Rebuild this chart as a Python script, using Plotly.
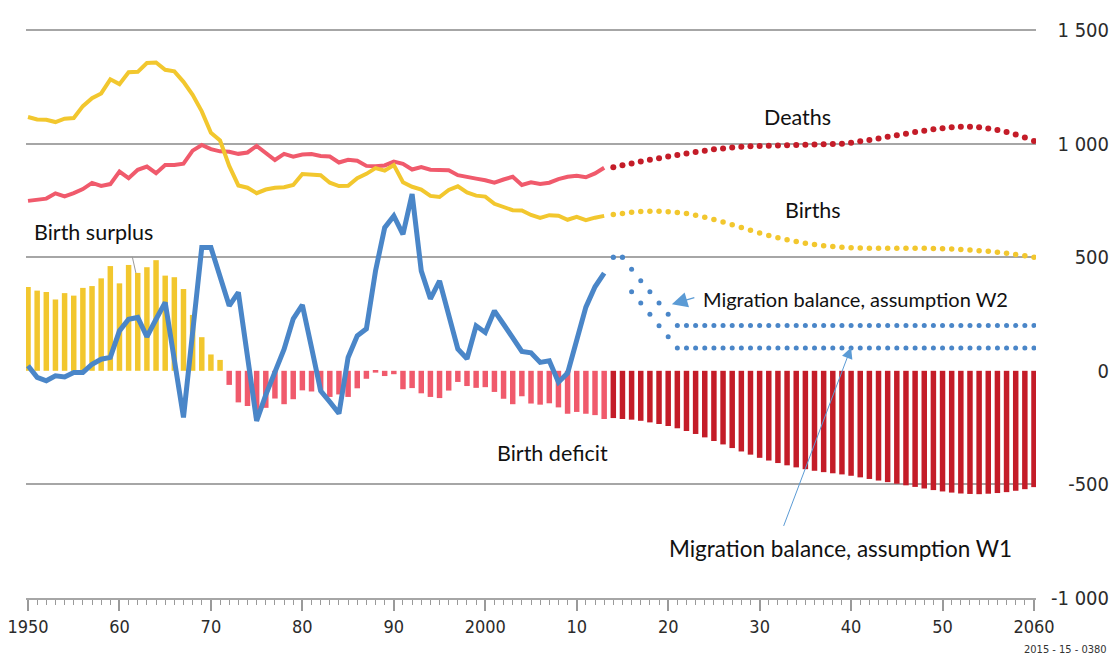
import plotly.graph_objects as go

# Jahre
years_hist = list(range(1950, 2014))
years_proj = list(range(2014, 2061))

# Beobachtete Werte (in 1000)
births_hist = [1117, 1106, 1105, 1095, 1110, 1113, 1165, 1200, 1221, 1283,
               1262, 1314, 1316, 1355, 1357, 1325, 1318, 1272, 1215, 1142,
               1048, 1014, 902, 816, 806, 782, 798, 806, 808, 818,
               866, 863, 861, 828, 813, 814, 848, 867, 892, 881,
               906, 830, 810, 798, 770, 765, 796, 812, 785, 771,
               767, 735, 719, 707, 706, 686, 673, 685, 683, 665,
               678, 663, 674, 682]
deaths_hist = [748, 753, 758, 781, 768, 782, 800, 827, 814, 822,
               877, 848, 885, 899, 870, 906, 906, 912, 969, 994,
               976, 966, 964, 955, 961, 990, 961, 928, 955, 943,
               952, 954, 946, 943, 917, 929, 925, 902, 900, 904,
               921, 911, 886, 897, 885, 885, 883, 861, 852, 846,
               839, 828, 842, 854, 818, 830, 822, 828, 844, 854,
               859, 852, 869, 894]
balance_hist = [369, 353, 347, 314, 342, 331, 365, 373, 407, 461,
                385, 466, 431, 456, 487, 419, 412, 360, 246, 148,
                72, 48, -62, -139, -155, -208, -163, -122, -147, -125,
                -86, -91, -85, -115, -104, -115, -77, -35, -8, -23,
                -15, -81, -76, -99, -115, -120, -87, -49, -67, -75,
                -72, -93, -123, -147, -112, -144, -149, -143, -161, -189,
                -181, -189, -195, -212]
migration_hist = [22, -29, -44, -22, -27, -7, -7, 29, 51, 59,
                  176, 227, 235, 150, 227, 301, 48, -205, 170, 543,
                  543, 415, 286, 345, 62, -220, -106, 0, 95, 229,
                  290, 103, -88, -137, -188, 59, 154, 185, 440, 630,
                  682, 601, 778, 440, 317, 396, 242, 96, 53, 198,
                  169, 264, 205, 147, 85, 79, 37, 44, -50, -10,
                  130, 280, 370, 430]

# Vorausberechnung
births_proj = [688, 693, 698, 701, 702, 702, 700, 697, 692, 685,
               676, 666, 655, 643, 631, 619, 607, 596, 586, 577,
               569, 562, 556, 551, 547, 544, 542, 541, 540, 540,
               540, 540, 540, 540, 539, 538, 537, 536, 534, 532,
               529, 526, 522, 517, 512, 506, 500]
deaths_proj = [896, 905, 913, 921, 929, 936, 943, 950, 957, 963,
               969, 975, 979, 983, 986, 988, 990, 991, 992, 993,
               994, 995, 996, 997, 998, 1000, 1004, 1010, 1016, 1023,
               1030, 1037, 1044, 1051, 1057, 1063, 1068, 1072, 1074, 1074,
               1072, 1067, 1060, 1051, 1040, 1027, 1012]
balance_proj = [-208, -212, -215, -220, -227, -234, -243, -253, -265, -278,
                -293, -309, -324, -340, -355, -369, -383, -395, -406, -416,
                -425, -433, -440, -446, -451, -456, -462, -469, -476, -483,
                -490, -497, -504, -511, -518, -525, -531, -536, -540, -542,
                -543, -541, -538, -534, -528, -521, -512]
migration_w2 = [500, 500, 447, 396, 348, 298, 249, 200, 200, 200,
                200, 200, 200, 200, 200, 200, 200, 200, 200, 200,
                200, 200, 200, 200, 200, 200, 200, 200, 200, 200,
                200, 200, 200, 200, 200, 200, 200, 200, 200, 200,
                200, 200, 200, 200, 200, 200, 200]
migration_w1 = [500, 500, 348, 298, 249, 198, 150, 100, 100, 100,
                100, 100, 100, 100, 100, 100, 100, 100, 100, 100,
                100, 100, 100, 100, 100, 100, 100, 100, 100, 100,
                100, 100, 100, 100, 100, 100, 100, 100, 100, 100,
                100, 100, 100, 100, 100, 100, 100]

# Achsen
x_tickvals = [1950, 1960, 1970, 1980, 1990, 2000, 2010, 2020, 2030, 2040, 2050, 2060]
x_ticktext = ['1950', '60', '70', '80', '90', '2000', '10', '20', '30', '40', '50', '2060']
y_tickvals = [1500, 1000, 500, 0, -500, -1000]
y_ticktext = ['1 500', '1 000', '500', '0', '-500', '-1 000']
grid_vals = [1500, 1000, 500, -500]

YELLOW = '#F2C72E'
PINK = '#F05A6C'
DARKRED = '#C41C28'
BLUE = '#4A86C8'
ARROW = '#5B9BD5'
AXIS_FONT = 'DejaVu Sans Condensed, DejaVu Sans'
TEXT_FONT = 'Lato, Open Sans, sans-serif'

fig = go.Figure()

# Geburtenüberschuss / -defizit
fig.add_trace(go.Bar(x=years_hist, y=balance_hist, width=0.6,
                     marker=dict(color=[YELLOW if v > 0 else PINK for v in balance_hist], line_width=0)))
fig.add_trace(go.Bar(x=years_proj, y=balance_proj, width=0.6,
                     marker=dict(color=DARKRED, line_width=0)))

# Gestorbene / Geborene
fig.add_trace(go.Scatter(x=years_hist, y=deaths_hist, mode='lines', line=dict(color=PINK, width=4)))
fig.add_trace(go.Scatter(x=years_proj, y=deaths_proj, mode='markers', marker=dict(color=DARKRED, size=6)))
fig.add_trace(go.Scatter(x=years_hist, y=births_hist, mode='lines', line=dict(color=YELLOW, width=4)))
fig.add_trace(go.Scatter(x=years_proj, y=births_proj, mode='markers', marker=dict(color=YELLOW, size=5.5)))

# Wanderungssaldo
fig.add_trace(go.Scatter(x=years_hist, y=migration_hist, mode='lines', line=dict(color=BLUE, width=5)))
fig.add_trace(go.Scatter(x=years_proj, y=migration_w2, mode='markers', marker=dict(color=BLUE, size=5)))
fig.add_trace(go.Scatter(x=years_proj, y=migration_w1, mode='markers', marker=dict(color=BLUE, size=5)))

# unsichtbare Spur, damit die Gitterachse gezeichnet wird
fig.add_trace(go.Scatter(x=[x_tickvals[0]], y=[grid_vals[0]], yaxis='y2', mode='markers',
                         marker=dict(opacity=0), hoverinfo='skip'))

# Seite hat 8px Rand im Browser -> Figur passt genau ins Fenster
fig.update_layout(
    width=1101, height=650,
    margin=dict(l=18, r=0, t=0, b=60),
    plot_bgcolor='white', paper_bgcolor='white',
    showlegend=False,
    barmode='overlay',
    xaxis=dict(domain=[0, 0.9326], range=[1949.78, 2060.22], automargin=False,
               tickvals=x_tickvals, ticktext=x_ticktext, ticklabeloverflow='allow',
               tickfont=dict(family=AXIS_FONT, size=18, color='#2b2b2b'),
               ticks='outside', ticklen=11, tickwidth=1.5, tickcolor='#9a9a9a',
               showline=True, linecolor='#a6a6a6', linewidth=2,
               showgrid=False, zeroline=False,
               minor=dict(dtick=1, tick0=1950, ticks='outside', ticklen=5,
                          tickwidth=1, tickcolor='#9a9a9a')),
    yaxis=dict(anchor='free', position=1, side='left', range=[-1000, 1597], automargin=False,
               tickvals=y_tickvals, ticktext=y_ticktext, ticklabeloverflow='allow',
               tickfont=dict(family=AXIS_FONT, size=20, color='#2b2b2b'),
               ticks='', ticklen=0, ticklabelstandoff=0, showgrid=False, zeroline=False),
    yaxis2=dict(overlaying='y', anchor='x', range=[-1000, 1597], automargin=False,
                tickvals=grid_vals, showgrid=True, gridcolor='#a6a6a6', gridwidth=2,
                showticklabels=False, ticks='', zeroline=False),
)

annotations = [
    dict(x=2034.1, y=1118, text='Deaths', showarrow=False,
         font=dict(family=TEXT_FONT, size=21.5, color='#111')),
    dict(x=2035.8, y=708, text='Births', showarrow=False,
         font=dict(family=TEXT_FONT, size=21.5, color='#111')),
    dict(x=1950.4, y=610, text='Birth surplus', showarrow=False, xanchor='left',
         font=dict(family=TEXT_FONT, size=21.5, color='#111')),
    dict(x=2007.3, y=-361, text='Birth deficit', showarrow=False,
         font=dict(family=TEXT_FONT, size=21.5, color='#111')),
    dict(x=2023.6, y=317, text='Migration balance, assumption W2', showarrow=False,
         xanchor='left', font=dict(family=TEXT_FONT, size=20, color='#111')),
    dict(x=2038.8, y=-783, text='Migration balance, assumption W1', showarrow=False,
         font=dict(family=TEXT_FONT, size=22.5, color='#111')),
    # Pfeile
    dict(x=1961.8, y=430, text='', showarrow=True, arrowhead=0, arrowwidth=1,
         arrowcolor='#9a9a9a', ax=-4, ay=-18),
    dict(x=2020.4, y=293, text='', showarrow=True, arrowhead=2, arrowsize=2.6, arrowwidth=1.2,
         arrowcolor=ARROW, ax=24, ay=-7, standoff=0),
    dict(x=2040, y=103, text='', showarrow=True, arrowhead=2, arrowsize=2.2, arrowwidth=1,
         arrowcolor=ARROW, ax=-68, ay=180, standoff=0),
    dict(x=1, y=-0.1017, xref='paper', yref='paper', text='2015 - 15 - 0380', showarrow=False,
         xanchor='right', yanchor='bottom', font=dict(family=AXIS_FONT, size=11, color='#333')),
]
fig.update_layout(annotations=annotations)

fig.write_html("out.html")
